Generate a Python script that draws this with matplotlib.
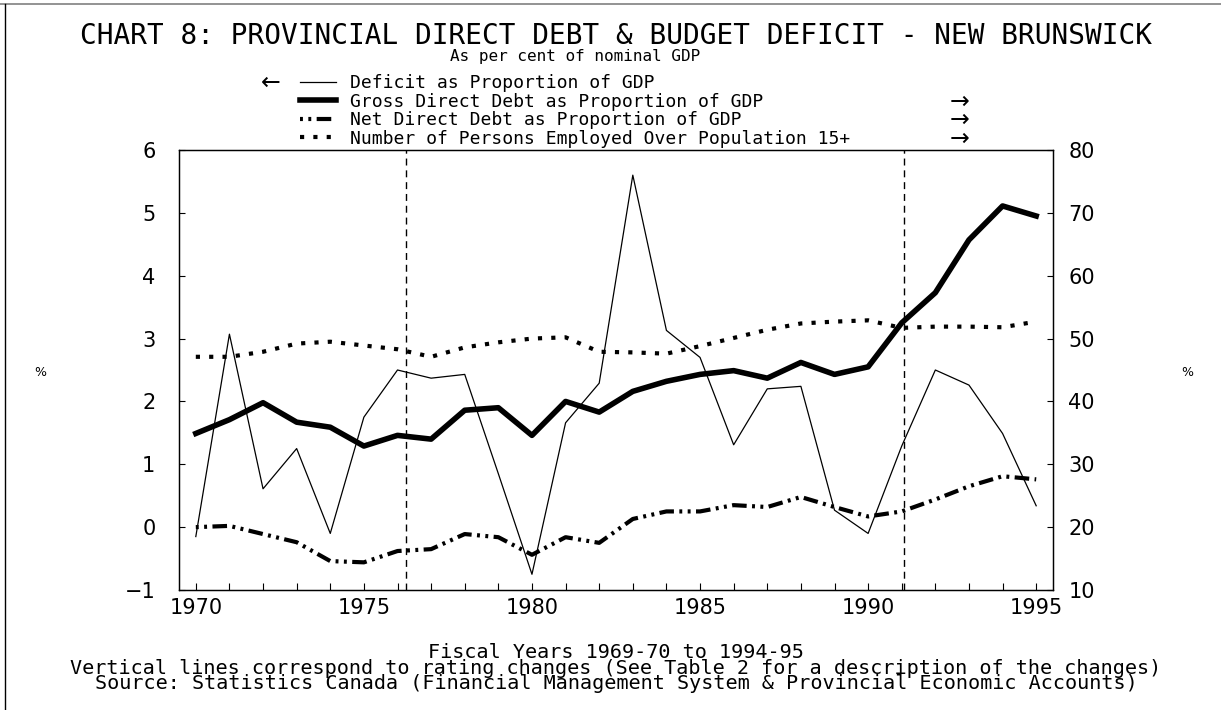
import matplotlib
matplotlib.use("Agg")
import matplotlib.pyplot as plt
from matplotlib.lines import Line2D
from matplotlib.font_manager import FontProperties

# --- data ---
years = list(range(1970, 1996))
deficit = [-0.15, 3.07, 0.61, 1.25, -0.10, 1.75, 2.50, 2.37, 2.43, 0.85,
           -0.75, 1.66, 2.29, 5.60, 3.13, 2.70, 1.31, 2.20, 2.24, 0.27,
           -0.10, 1.29, 2.50, 2.26, 1.49, 0.34]
gross_debt = [34.9, 37.1, 39.8, 36.7, 35.9, 32.9, 34.6, 34.0, 38.6, 39.0,
              34.6, 40.0, 38.3, 41.6, 43.2, 44.3, 44.9, 43.7, 46.2, 44.3,
              45.5, 52.5, 57.3, 65.7, 71.1, 69.5]
net_debt = [20.0, 20.2, 18.9, 17.6, 14.6, 14.4, 16.2, 16.5, 18.9, 18.4,
            15.6, 18.4, 17.5, 21.3, 22.5, 22.5, 23.5, 23.2, 24.8, 23.2,
            21.7, 22.5, 24.4, 26.5, 28.1, 27.6]
employment = [47.1, 47.1, 47.9, 49.2, 49.5, 48.9, 48.3, 47.1, 48.6, 49.4,
              50.0, 50.2, 47.9, 47.8, 47.6, 48.8, 50.1, 51.4, 52.4, 52.7,
              52.9, 51.7, 51.9, 51.9, 51.8, 52.7]
rating_changes = [1976.25, 1991.08]

left_ticks = [-1, 0, 1, 2, 3, 4, 5, 6]
right_ticks = [10, 20, 30, 40, 50, 60, 70, 80]
year_ticks = [1970, 1975, 1980, 1985, 1990, 1995]

labels = [
    "Deficit as Proportion of GDP",
    "Gross Direct Debt as Proportion of GDP",
    "Net Direct Debt as Proportion of GDP",
    "Number of Persons Employed Over Population 15+",
]

notes = ("Fiscal Years 1969-70 to 1994-95\n"
         "Vertical lines correspond to rating changes (See Table 2 for a description of the changes)\n"
         "Source: Statistics Canada (Financial Management System & Provincial Economic Accounts)")

W, H = 1221, 710
fig = plt.figure(figsize=(W / 100, H / 100), dpi=100)
ax = fig.add_axes([179 / W, 1 - 590 / H, 874 / W, 440 / H])
ax2 = ax.twinx()

mono = "DejaVu Sans Mono"

l1, = ax.plot(years, deficit, color="black", lw=0.9)
l2, = ax2.plot(years, gross_debt, color="black", lw=4.0, solid_joinstyle="round")
l3, = ax2.plot(years, net_debt, color="black", lw=3.0,
               dashes=(0.7, 1.3, 0.7, 1.3, 3.5, 1.3), dash_capstyle="butt")
l4, = ax2.plot(years, employment, color="black", lw=3.0, dashes=(1.0, 2.2))

for xv in rating_changes:
    ax.axvline(xv, color="black", lw=1.0, dashes=(5, 3.5))

ax.set_xlim(1969.5, 1995.5)
ax.set_ylim(-1, 6)
ax2.set_ylim(10, 80)

ax.set_xticks(year_ticks)
ax.set_xticks(years, minor=True)
ax.set_yticks(left_ticks)
ax.set_yticklabels(["\u22121" if v < 0 else str(v) for v in left_ticks])
ax2.set_yticks(right_ticks)

ax.tick_params(axis="x", which="both", direction="in", length=5, width=0.8,
               labelsize=15, pad=6, top=False)
ax.tick_params(axis="y", direction="in", length=4, width=0.8, labelsize=15, pad=17)
ax2.tick_params(axis="y", direction="in", length=4, width=0.8, labelsize=15, pad=11)

for a in (ax, ax2):
    for s in a.spines.values():
        s.set_linewidth(0.9)

ax.set_ylabel("%", rotation=0, fontsize=9, va="center", ha="center")
ax.yaxis.set_label_coords(-0.159, 0.495)
ax2.set_ylabel("%", rotation=0, fontsize=9, va="center", ha="center")
ax2.yaxis.set_label_coords(1.154, 0.495)

# titles
fig.text(616 / W, 1 - 35.5 / H, "CHART 8: PROVINCIAL DIRECT DEBT & BUDGET DEFICIT - NEW BRUNSWICK",
         ha="center", va="center", fontsize=20, family=mono)
fig.text(575 / W, 1 - 57 / H, "As per cent of nominal GDP",
         ha="center", va="center", fontsize=11.5, family=mono)

leg = fig.legend([l1, l2, l3, l4], labels, loc="upper left",
                 bbox_to_anchor=(300 / W, 1 - 74 / H), frameon=False,
                 prop={"family": mono, "size": 13}, handlelength=2.0,
                 handletextpad=0.78, labelspacing=0.03, borderpad=0,
                 borderaxespad=0)

# arrows showing which axis each legend entry is read on
fig.canvas.draw()
renderer = fig.canvas.get_renderer()
centers = []
for txt in leg.get_texts():
    bb = txt.get_window_extent(renderer)
    centers.append((bb.y0 + bb.y1) / 2)

arrow_size = 17
fig.text(271 / W, centers[0] / H, "\u2190", ha="center", va="center", fontsize=arrow_size)

# right arrows as one block, line pitch matched to the legend rows
pitch = (centers[1] - centers[3]) / 2
_, lp_h, lp_d = renderer.get_text_width_height_descent(
    "lp", FontProperties(size=arrow_size), ismath=False)
ls = (pitch - lp_d) / (lp_h - lp_d)
fig.text(960 / W, centers[2] / H, "\u2192\n\u2192\n\u2192", ha="center", va="center",
         fontsize=arrow_size, linespacing=ls)

fig.text(616 / W, 1 - 668 / H, notes, ha="center", va="center",
         multialignment="center", fontsize=14.5, family=mono, linespacing=0.77)

# page frame (top and left edges)
fig.add_artist(Line2D([0, 1], [1 - 4 / H, 1 - 4 / H], transform=fig.transFigure,
                      color="0.5", lw=1.2))
fig.add_artist(Line2D([5 / W, 5 / W], [0, 1 - 4 / H], transform=fig.transFigure,
                      color="black", lw=1.0))

fig.savefig("out.png", dpi=100)
